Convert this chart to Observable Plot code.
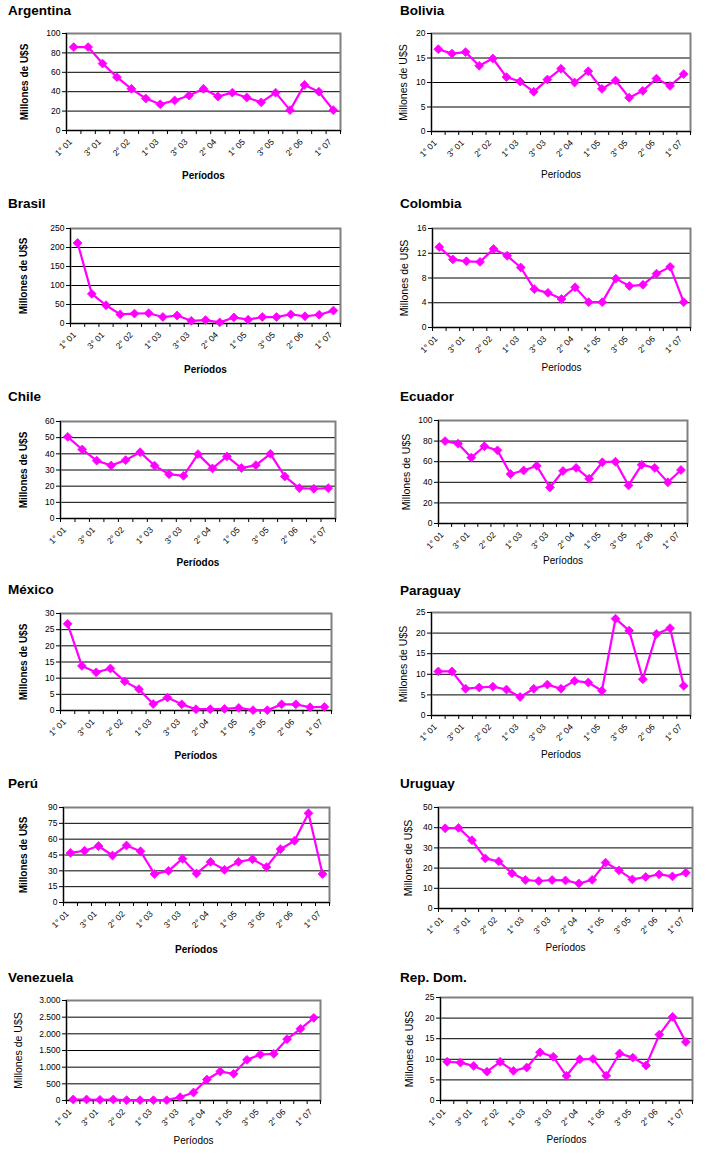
<!DOCTYPE html>
<html><head><meta charset="utf-8">
<script src="https://cdn.jsdelivr.net/npm/d3@7"></script>
<script src="https://cdn.jsdelivr.net/npm/@observablehq/plot@0.6"></script>
<style>
body{margin:0;background:#fff;}
#root{position:relative;width:719px;height:1162px;font-family:"Liberation Sans",Arial,sans-serif;overflow:hidden;}
.t{position:absolute;font-weight:bold;font-size:13.5px;line-height:13.5px;white-space:nowrap;color:#000;}
.p{position:absolute;}
</style></head><body><div id="root"></div>
<script>
// ---- data ----
const periods = ["1° 01","2° 01","3° 01","1° 02","2° 02","3° 02","1° 03","2° 03","3° 03","1° 04","2° 04","3° 04","1° 05","2° 05","3° 05","1° 06","2° 06","3° 06","1° 07"];
const labeledPeriods = ["1° 01","3° 01","2° 02","1° 03","3° 03","2° 04","1° 05","3° 05","2° 06","1° 07"];
const countries = ["Argentina","Bolivia","Brasil","Colombia","Chile","Ecuador","México","Paraguay","Perú","Uruguay","Venezuela","Rep. Dom."];
const yTitle = "Millones de U$S";
const xTitle = "Períodos";

const argentina = [86, 86, 69, 55, 43, 33, 27, 31, 36, 43, 35, 39, 34, 29, 39, 21, 47, 40, 21];
const bolivia   = [16.8, 15.9, 16.2, 13.4, 14.9, 11.1, 10.2, 8.1, 10.6, 12.8, 10.0, 12.3, 8.7, 10.4, 6.9, 8.3, 10.8, 9.3, 11.7];
const brasil    = [212, 78, 48, 24, 26, 27, 17, 21, 7, 9, 3, 16, 10, 17, 17, 24, 19, 23, 34];
const colombia  = [13.0, 11.0, 10.7, 10.6, 12.7, 11.6, 9.7, 6.2, 5.6, 4.6, 6.5, 4.1, 4.1, 7.9, 6.7, 6.9, 8.7, 9.8, 4.1];
const chile     = [50.5, 42.7, 35.8, 32.8, 36.1, 41.0, 32.7, 27.4, 26.4, 39.8, 31.0, 38.4, 31.2, 33.0, 40.0, 26.0, 18.8, 18.4, 18.8];
const ecuador   = [80, 77.5, 64, 75, 71, 48, 51.5, 56, 35, 51, 54, 43.5, 59.5, 60, 37, 57, 54, 40, 52];
const mexico    = [26.8, 13.8, 11.8, 13.0, 9.0, 6.6, 2.0, 4.0, 1.9, 0.4, 0.4, 0.5, 0.8, 0.1, 0.1, 1.9, 1.9, 1.0, 1.1];
const paraguay  = [10.7, 10.7, 6.5, 6.8, 7.0, 6.3, 4.5, 6.5, 7.5, 6.5, 8.4, 8.0, 6.0, 23.5, 20.6, 8.8, 19.8, 21.2, 7.2];
const peru      = [47, 49, 53.5, 44.5, 54, 48.5, 27, 30, 41.5, 27.5, 38.5, 31, 38.5, 41, 33.5, 50.5, 58.5, 84.5, 27];
const uruguay   = [39.7, 39.9, 33.8, 24.8, 23.3, 17.4, 14.1, 13.6, 14.1, 13.9, 12.4, 14.2, 22.7, 18.9, 14.4, 15.6, 16.9, 15.9, 17.7];
const venezuela = [30, 30, 20, 30, 10, 10, 10, 10, 100, 240, 630, 870, 800, 1220, 1380, 1400, 1840, 2150, 2480];
const repdom    = [9.4, 9.2, 8.4, 7.0, 9.4, 7.2, 8.0, 11.7, 10.6, 6.0, 10.0, 10.1, 6.0, 11.4, 10.4, 8.5, 16.0, 20.3, 14.2];

const yTicksArgentina = [0, 20, 40, 60, 80, 100];
const yTicksBolivia   = [0, 5, 10, 15, 20];
const yTicksBrasil    = [0, 50, 100, 150, 200, 250];
const yTicksColombia  = [0, 4, 8, 12, 16];
const yTicksChile     = [0, 10, 20, 30, 40, 50, 60];
const yTicksEcuador   = [0, 20, 40, 60, 80, 100];
const yTicksMexico    = [0, 5, 10, 15, 20, 25, 30];
const yTicksParaguay  = [0, 5, 10, 15, 20, 25];
const yTicksPeru      = [0, 15, 30, 45, 60, 75, 90];
const yTicksUruguay   = [0, 10, 20, 30, 40, 50];
const yTicksVenezuela = [0, 500, 1000, 1500, 2000, 2500, 3000];
const yTicksRepDom    = [0, 5, 10, 15, 20, 25];

const seriesList = [argentina, bolivia, brasil, colombia, chile, ecuador, mexico, paraguay, peru, uruguay, venezuela, repdom];
const ticksList = [yTicksArgentina, yTicksBolivia, yTicksBrasil, yTicksColombia, yTicksChile, yTicksEcuador, yTicksMexico, yTicksParaguay, yTicksPeru, yTicksUruguay, yTicksVenezuela, yTicksRepDom];

// ---- layout (page pixel positions) ----
const layout = [
 {panel:[0,0,360,190],    frame:[66,33,340,130],    titleX:8,   titleBase:15,  yLabelX:24,  xTitleBase:178,  bold:true},
 {panel:[360,0,359,190],  frame:[431,33,690,131],   titleX:400, titleBase:15,  yLabelX:403, xTitleBase:177,  bold:false},
 {panel:[0,190,360,190],  frame:[70,228,340,323],   titleX:8,   titleBase:208, yLabelX:23,  xTitleBase:372,  bold:true},
 {panel:[360,190,359,190],frame:[432,228,690,327],  titleX:400, titleBase:208, yLabelX:404, xTitleBase:370,  bold:false},
 {panel:[0,380,360,190],  frame:[60,421,335,518],   titleX:8,   titleBase:401, yLabelX:23,  xTitleBase:565,  bold:true},
 {panel:[360,380,359,190],frame:[438,420,687,523],  titleX:400, titleBase:401, yLabelX:406, xTitleBase:563,  bold:false},
 {panel:[0,570,360,195],  frame:[60,613,331,710],   titleX:8,   titleBase:594, yLabelX:23,  xTitleBase:758,  bold:true},
 {panel:[360,570,359,195],frame:[431,612,690,715],  titleX:400, titleBase:595, yLabelX:403, xTitleBase:757,  bold:false},
 {panel:[0,765,360,195],  frame:[63,807,329,902],   titleX:8,   titleBase:788, yLabelX:23,  xTitleBase:952,  bold:true},
 {panel:[360,765,359,195],frame:[438,807,692,908],  titleX:400, titleBase:788, yLabelX:408, xTitleBase:950,  bold:false},
 {panel:[0,960,360,202],  frame:[66,1000,320,1100], titleX:8,   titleBase:982, yLabelX:18,  xTitleBase:1143, bold:false},
 {panel:[360,960,359,202],frame:[440,997,692,1100], titleX:400, titleBase:982, yLabelX:409, xTitleBase:1142, bold:false}
];

const base = d3.format(",");
const fmt = v => base(v).replace(/,/g, ".");
const root = document.getElementById("root");
const nP = periods.length;
const bounds = [...periods.map((p, i) => i - 0.5), nP - 0.5];
const labelIdx = labeledPeriods.map(p => periods.indexOf(p));
const MAG = "#ff00ff";

countries.forEach((name, k) => {
  const L = layout[k];
  const [px, py, pw, ph] = L.panel;
  const [fl, ft, fr, fb] = L.frame;
  const ticks = ticksList[k];
  const ymax = ticks[ticks.length - 1];
  const data = seriesList[k].map((v, i) => ({i, period: periods[i], value: v}));

  const t = document.createElement("div");
  t.className = "t";
  t.textContent = name;
  t.style.left = L.titleX + "px";
  t.style.top = (L.titleBase - 11.4) + "px";
  root.appendChild(t);

  const svg = Plot.plot({
    width: pw, height: ph,
    marginLeft: fl - px, marginRight: px + pw - fr, marginTop: ft - py, marginBottom: py + ph - fb,
    x: {domain: [-0.5, nP - 0.5], label: null},
    y: {domain: [0, ymax], label: null},
    style: {fontFamily: '"Liberation Sans", Arial, sans-serif', fontSize: "8.5px", background: "transparent", overflow: "visible", color: "#000"},
    marks: [
      Plot.ruleY(ticks.filter(v => v > 0 && v < ymax), {stroke: "#000", strokeWidth: 1}),
      Plot.frame({stroke: "#808080", strokeWidth: 2}),
      Plot.ruleX([-0.5], {stroke: "#000", strokeWidth: 1}),
      Plot.ruleY([0], {stroke: "#000", strokeWidth: 1}),
      Plot.axisY({ticks: ticks, tickFormat: fmt, tickSize: 4, tickPadding: 2, fontSize: 8.5, label: null}),
      Plot.axisX({ticks: bounds, tickFormat: () => "", tickSize: 4, label: null}),
      Plot.axisX({ticks: labelIdx, tickFormat: i => periods[i], tickSize: 0, tickPadding: 10, tickRotate: -45, fontSize: 8.5, dx: -3, label: null}),
      Plot.line(data, {x: "i", y: "value", stroke: MAG, strokeWidth: 2.2}),
      Plot.dot(data, {x: "i", y: "value", symbol: "diamond2", r: 4, fill: MAG, stroke: MAG, strokeWidth: 0.8}),
      Plot.text([yTitle], {text: d => d, frameAnchor: "left", dx: L.yLabelX - fl, rotate: -90, textAnchor: "middle", lineAnchor: "middle", fontSize: L.bold ? 10 : 10.5, fontWeight: L.bold ? "bold" : "normal"}),
      Plot.text([xTitle], {text: d => d, frameAnchor: "bottom", dy: L.xTitleBase - fb, lineAnchor: "bottom", textAnchor: "middle", fontSize: 10, fontWeight: L.bold ? "bold" : "normal"})
    ]
  });
  svg.classList.add("p");
  svg.style.left = px + "px";
  svg.style.top = py + "px";
  root.appendChild(svg);
});
</script>
</body></html>
